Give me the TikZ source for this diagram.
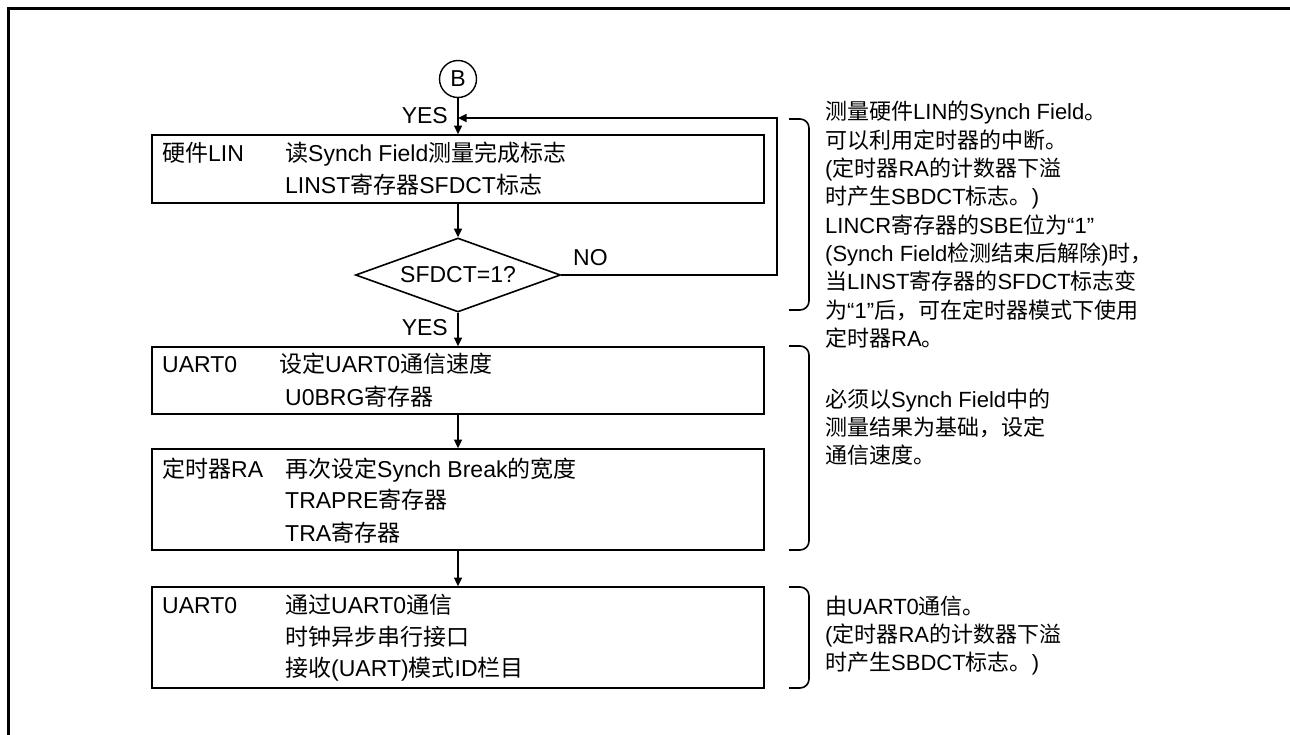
\documentclass[tikz,border=0pt]{standalone}
\usepackage{fontspec}
\setmainfont{Liberation Sans}
\newfontfamily\cjkfont{Noto Sans CJK SC}
\newfontfamily\latfont{Liberation Sans}
\usetikzlibrary{arrows.meta,shapes.geometric}
\XeTeXinterchartokenstate=1
\newXeTeXintercharclass\CJKcls
\makeatletter
\def\setcjkrange#1#2#3{\@tempcnta=#1\relax
  \loop\XeTeXcharclass\@tempcnta=#3\relax
  \advance\@tempcnta\@ne\ifnum\@tempcnta<#2\relax\repeat}
\setcjkrange{"4E00}{"A000}{\CJKcls}
\setcjkrange{"3000}{"3040}{\CJKcls}
\setcjkrange{"FF00}{"FFF0}{\CJKcls}
\setcjkrange{"2010}{"2030}{0}
\makeatother
\XeTeXinterchartoks 0 \CJKcls = {\cjkfont}
\XeTeXinterchartoks \CJKcls 0 = {\latfont}
\XeTeXinterchartoks 4095 \CJKcls = {\cjkfont}
\XeTeXinterchartoks \CJKcls 4095 = {\latfont}
\tikzset{
  box/.style={draw, line width=1.8pt, minimum width=612pt, inner sep=0pt},
  txt/.style={font=\fontsize{23}{28}\selectfont, inner sep=0pt, anchor=base west},
  note/.style={font=\fontsize{22}{28}\selectfont, inner sep=0pt, anchor=base west},
  lbl/.style={font=\fontsize{23}{28}\selectfont, inner sep=0pt},
  arr/.style={line width=1.4pt, -{Triangle[length=8.5pt,width=8pt]}},
  brk/.style={line width=1.6pt, rounded corners=9pt}
}
\begin{document}
\begin{tikzpicture}[x=1pt,y=-1pt]
\useasboundingbox (0,0) rectangle (1290,735);
% frame
\draw[line width=3.3pt] (8.3,735) -- (8.3,8.3) -- (1290,8.3);

% connector B
\node[draw, circle, line width=1.4pt, minimum size=37pt, inner sep=0pt, font=\fontsize{23}{28}\selectfont] (B) at (458,79) {B};

% boxes
\node[box, minimum height=68pt] (b1) at (458,169) {};
\node[box, minimum height=67pt] (b2) at (458,380.5) {};
\node[box, minimum height=101pt] (b3) at (458,499.5) {};
\node[box, minimum height=101pt] (b4) at (458,637.5) {};
\node[draw, shape=diamond, aspect=2.77, minimum width=205pt, minimum height=74pt, inner sep=0pt, line width=1.6pt, font=\fontsize{23}{28}\selectfont] (dia) at (458,275) {SFDCT=1?};

% box texts
\node[txt] (t1a) at (162,162) {硬件LIN};
\node[txt] (t1b) at (285,162) {读Synch Field测量完成标志};
\node[txt] (t1c) at (285,194) {LINST寄存器SFDCT标志};

\node[txt] (t2a) at (162,372) {UART0};
\node[txt] (t2b) at (279,372) {设定UART0通信速度};
\node[txt] (t2c) at (285,405) {U0BRG寄存器};

\node[txt] (t3a) at (162,477) {定时器RA};
\node[txt] (t3b) at (285,477) {再次设定Synch Break的宽度};
\node[txt] (t3c) at (285,508) {TRAPRE寄存器};
\node[txt] (t3d) at (285,541) {TRA寄存器};

\node[txt] (t4a) at (162,613) {UART0};
\node[txt] (t4b) at (285,613) {通过UART0通信};
\node[txt] (t4c) at (285,645) {时钟异步串行接口};
\node[txt] (t4d) at (285,676) {接收(UART)模式ID栏目};

% labels
\node[lbl, anchor=base east] (yes1) at (448,124) {YES};
\node[lbl, anchor=base east] (yes2) at (448,335) {YES};
\node[lbl, anchor=base west] (no) at (573,266) {NO};

% connectors
\coordinate (lt) at (458,118);
\coordinate (lr) at (777,118);
\draw[arr] (B) -- (b1);
\draw[arr] (b1) -- (dia);
\draw[arr] (dia) -- (b2);
\draw[arr] (b2) -- (b3);
\draw[arr] (b3) -- (b4);
\draw[arr] (dia.east) -| (lr) -- (lt);

% brackets
\draw[brk] (789,119) -| (809,215) |- (789,310);
\draw[brk] (789,346) -| (809,448) |- (789,550);
\draw[brk] (789,587) -| (809,637) |- (789,688);

% notes
\foreach \t [count=\i] in {{测量硬件LIN的Synch Field。},{可以利用定时器的中断。},{(定时器RA的计数器下溢},{时产生SBDCT标志。)},{LINCR寄存器的SBE位为“1”},{(Synch Field检测结束后解除)时，},{当LINST寄存器的SFDCT标志变},{为“1”后，可在定时器模式下使用},{定时器RA。}}
  \node[note] (n1-\i) at (825,{120+28.3*(\i-1)}) {\t};
\foreach \t [count=\i] in {{必须以Synch Field中的},{测量结果为基础，设定},{通信速度。}}
  \node[note] (n2-\i) at (825,{407+28*(\i-1)}) {\t};
\foreach \t [count=\i] in {{由UART0通信。},{(定时器RA的计数器下溢},{时产生SBDCT标志。)}}
  \node[note] (n3-\i) at (825,{614+28*(\i-1)}) {\t};
\end{tikzpicture}
\end{document}
